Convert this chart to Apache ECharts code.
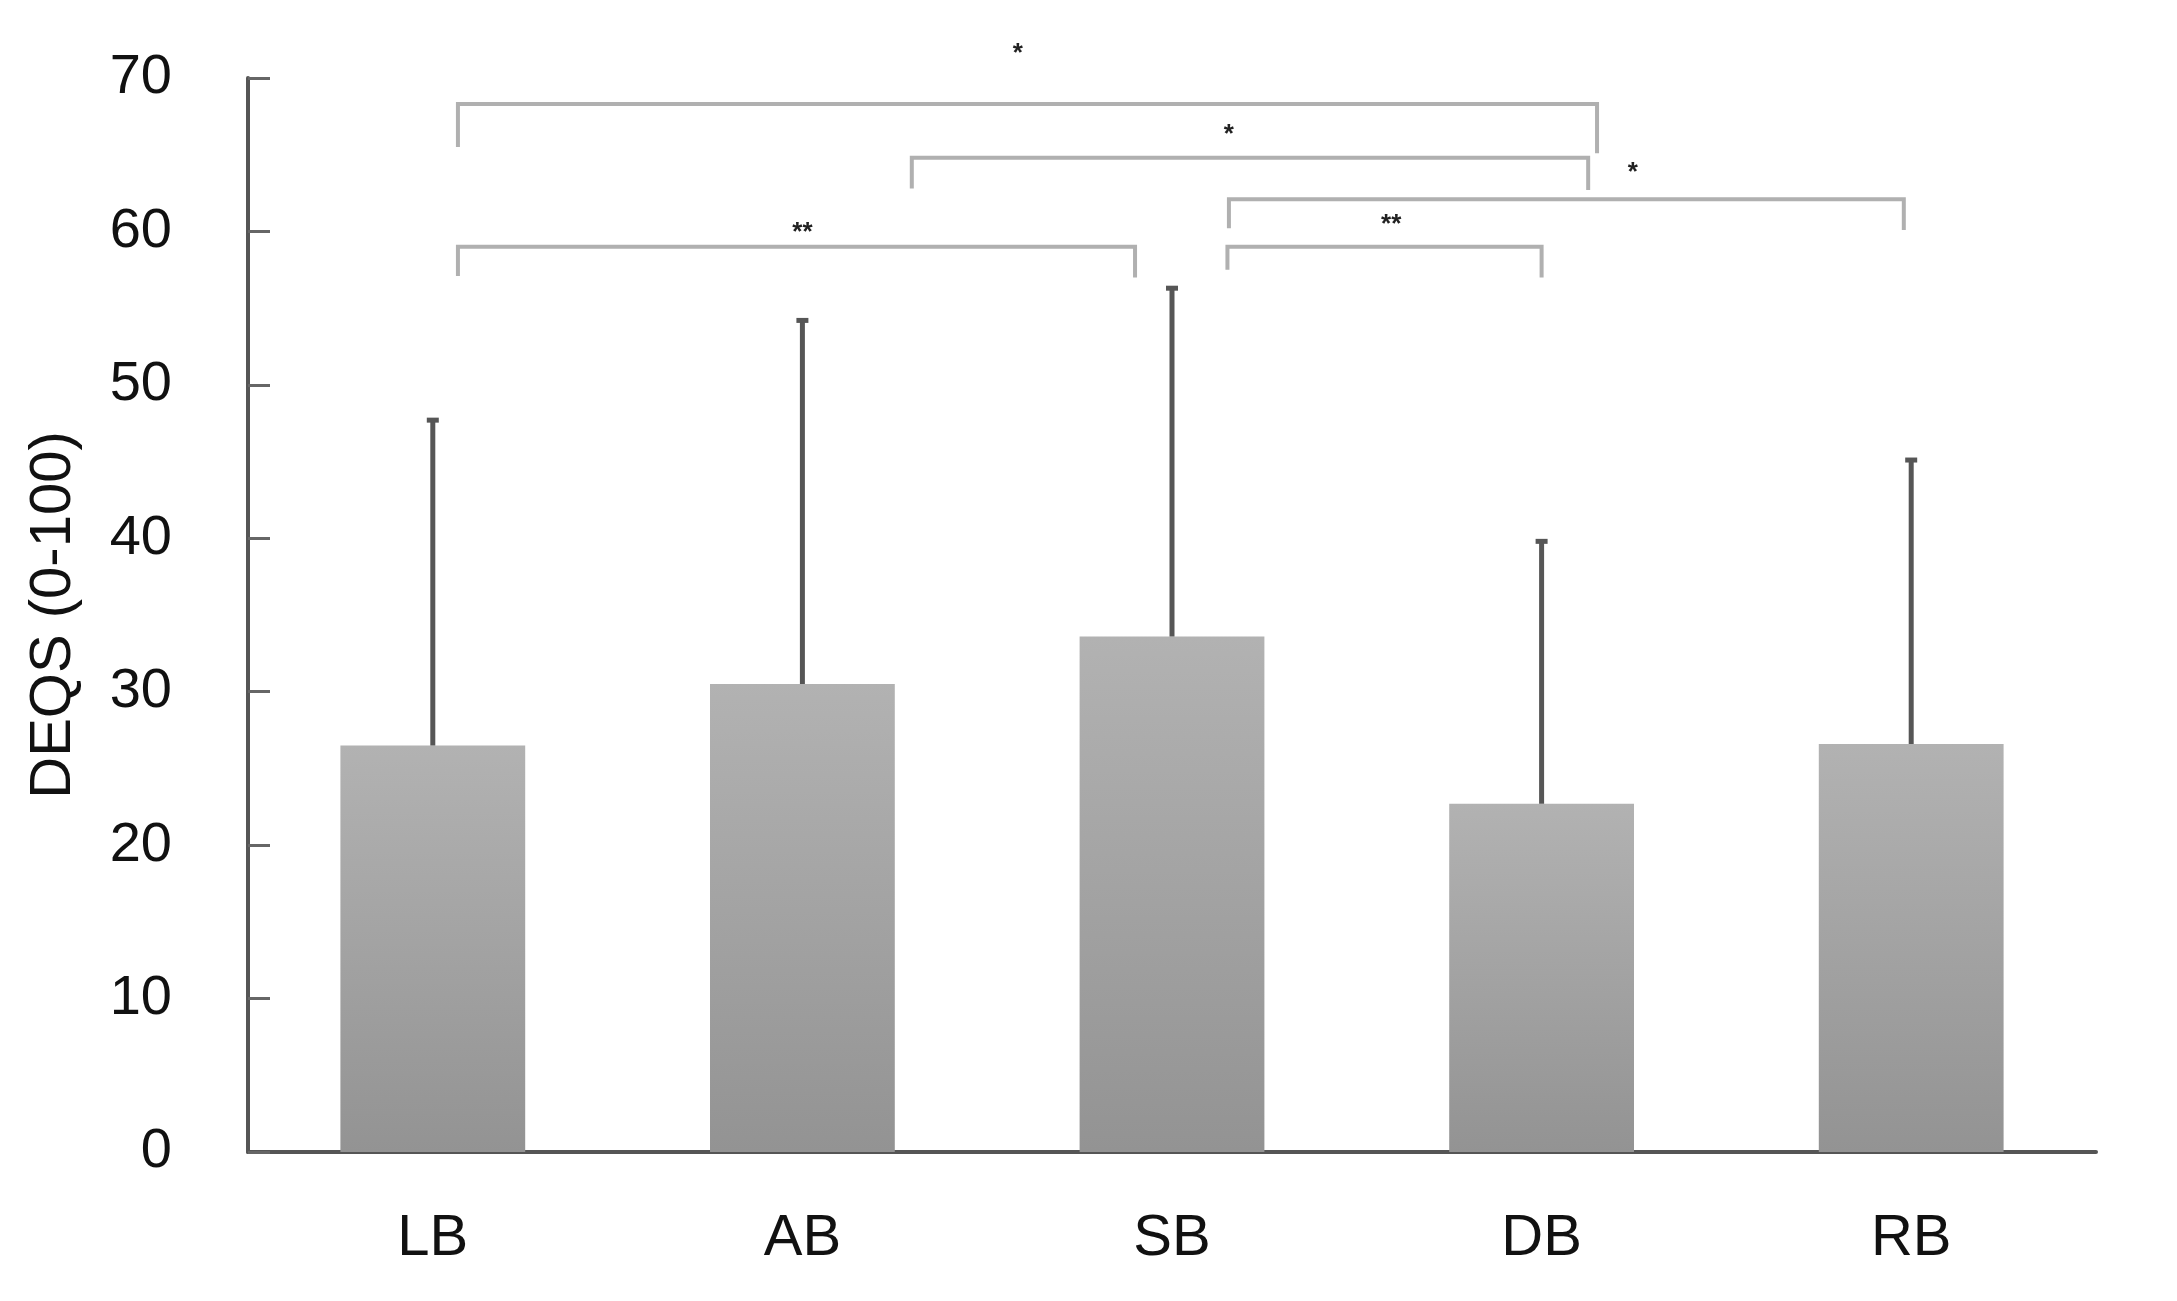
<!DOCTYPE html>
<html>
<head>
<meta charset="utf-8">
<title>DEQS</title>
<script src="https://cdn.jsdelivr.net/npm/echarts@6/dist/echarts.min.js"></script>
<style>
    html, body { margin: 0; padding: 0; background: #fff; }
    .bar { width: 2177px; height: 1301px; }
</style>
</head>
<body>
<div class="bar"></div>
<script>
// data
var categories = ['LB', 'AB', 'SB', 'DB', 'RB'];
var means = [26.5, 30.5, 33.6, 22.7, 26.6];
var errUpper = [47.7, 54.2, 56.3, 39.8, 45.1];
var yTicks = [0, 10, 20, 30, 40, 50, 60, 70];

// significance brackets: [x left, x right, y top, y left end, y right end] (x in category units)
var brackets = [
    [0.068, 3.15, 68.3, 65.5, 65.1],
    [1.296, 3.126, 64.8, 62.8, 62.7],
    [2.154, 3.98, 62.1, 60.2, 60.1],
    [0.068, 1.90, 59.0, 57.1, 57.0],
    [2.15, 3.0, 59.0, 57.5, 57.0]
];
var markPos = [[1.583, 71.6], [2.154, 66.3], [3.247, 63.8], [1.0, 59.9], [2.593, 60.4]];
var markText = ['*', '*', '*', '**', '**'];

(function () {
    // 1. init
    var myChart = echarts.init(document.querySelector('.bar'));
    var font = "'Liberation Sans', Arial, sans-serif";

    // error bars data: [index, mean, upper]
    var errData = categories.map(function (c, i) {
        return [i, means[i], errUpper[i]];
    });

    // 2. option
    var option = {
        backgroundColor: '#fff',
        animation: false,
        grid: {
            left: 248,
            right: 81,
            top: 78,
            bottom: 149
        },
        xAxis: [
            {
                type: 'category',
                data: categories,
                axisTick: { show: false },
                axisLabel: {
                    color: '#111',
                    fontSize: 58,
                    fontFamily: font,
                    margin: 58
                },
                axisLine: {
                    lineStyle: { color: '#555', width: 4 }
                }
            },
            {
                // hidden axis for the brackets
                type: 'value',
                min: -0.5,
                max: 4.5,
                show: false
            }
        ],
        yAxis: {
            type: 'value',
            min: yTicks[0],
            max: yTicks[yTicks.length - 1],
            interval: 10,
            name: 'DEQS (0-100)',
            nameLocation: 'middle',
            nameGap: 165,
            nameTextStyle: {
                color: '#111',
                fontSize: 58,
                fontFamily: font
            },
            axisLine: {
                show: true,
                onZero: false,
                lineStyle: { color: '#555', width: 4 }
            },
            axisTick: {
                show: true,
                inside: true,
                length: 22,
                lineStyle: { color: '#666', width: 3 }
            },
            axisLabel: {
                color: '#111',
                fontSize: 56,
                fontFamily: font,
                margin: 76
            },
            splitLine: { show: false }
        },
        series: [
            {
                name: 'DEQS',
                type: 'bar',
                barWidth: '50%',
                data: means,
                itemStyle: {
                    color: new echarts.graphic.LinearGradient(0, 0, 0, 1, [
                        { offset: 0, color: '#b2b2b2' },
                        { offset: 1, color: '#939393' }
                    ])
                }
            },
            {
                // error bars (upper only)
                type: 'custom',
                data: errData,
                z: 3,
                renderItem: function (params, api) {
                    var base = api.coord([api.value(0), api.value(1)]);
                    var top = api.coord([api.value(0), api.value(2)]);
                    var st = { stroke: '#565656', lineWidth: 5 };
                    return {
                        type: 'group',
                        children: [
                            { type: 'line', shape: { x1: base[0], y1: base[1], x2: top[0], y2: top[1] }, style: st },
                            { type: 'line', shape: { x1: top[0] - 6, y1: top[1], x2: top[0] + 6, y2: top[1] }, style: st }
                        ]
                    };
                }
            },
            {
                // brackets
                type: 'custom',
                xAxisIndex: 1,
                data: brackets,
                clip: false,
                renderItem: function (params, api) {
                    var pts = [
                        api.coord([api.value(0), api.value(3)]),
                        api.coord([api.value(0), api.value(2)]),
                        api.coord([api.value(1), api.value(2)]),
                        api.coord([api.value(1), api.value(4)])
                    ];
                    return {
                        type: 'polyline',
                        shape: { points: pts },
                        style: { stroke: '#b0b0b0', lineWidth: 4, fill: null }
                    };
                }
            },
            {
                // stars
                type: 'custom',
                xAxisIndex: 1,
                data: markPos,
                clip: false,
                renderItem: function (params, api) {
                    var p = api.coord([api.value(0), api.value(1)]);
                    return {
                        type: 'text',
                        x: p[0],
                        y: p[1],
                        style: {
                            text: markText[params.dataIndex],
                            fill: '#222',
                            font: 'bold 26px ' + font,
                            align: 'center',
                            verticalAlign: 'middle'
                        }
                    };
                }
            }
        ]
    };

    // 3. apply
    myChart.setOption(option);
    window.addEventListener('resize', function () {
        myChart.resize();
    });
})();
</script>
</body>
</html>
